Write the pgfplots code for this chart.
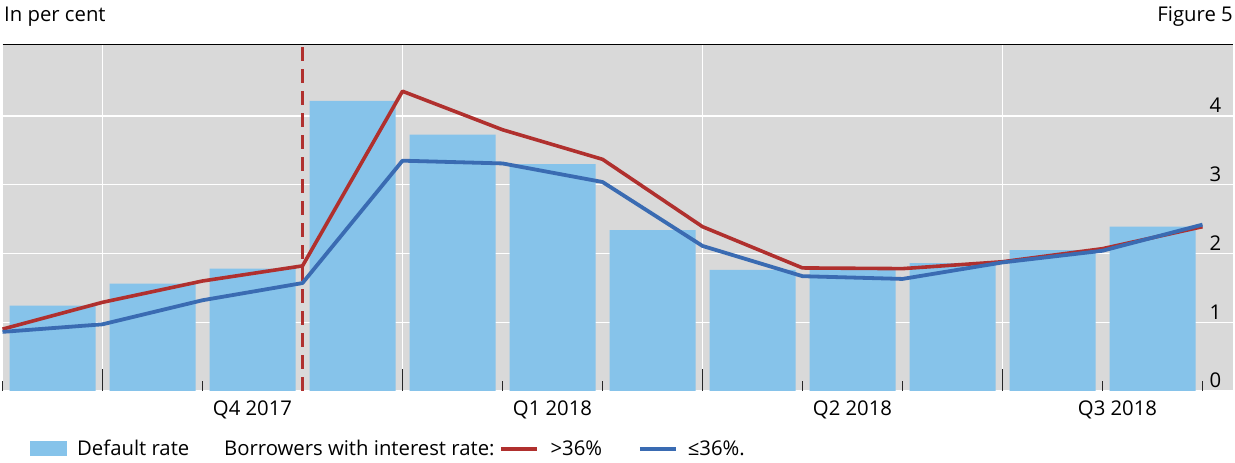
\documentclass[border=0pt]{standalone}
\usepackage{pgfplots}
\pgfplotsset{compat=1.18}
\usepackage{fontspec}
\setmainfont{Open Sans}
\definecolor{bgGrey}{HTML}{D9D9D9}
\definecolor{barBlue}{HTML}{86C3EA}
\definecolor{lineRed}{HTML}{B0302E}
\definecolor{lineBlue}{HTML}{3A6BB2}

% monthly default rate (bars) and rates by borrower group (end of month)
\pgfplotstableread{
x   rate
1   1.24
2   1.56
3   1.78
4   4.22
5   3.73
6   3.30
7   2.34
8   1.76
9   1.77
10  1.86
11  2.05
12  2.39
}\defaults
\pgfplotstableread{
x     high  low
0.5   0.90  0.86
1.5   1.29  0.97
2.5   1.60  1.32
3.5   1.82  1.57
4.5   4.36  3.35
5.5   3.80  3.31
6.5   3.37  3.04
7.5   2.39  2.11
8.5   1.79  1.67
9.5   1.78  1.63
10.5  1.88  1.87
11.5  2.07  2.04
12.5  2.39  2.42
}\groups

\begin{document}
\fontsize{20.3}{24}\selectfont
\begin{tikzpicture}
\begin{axis}[scale only axis,width=1230pt,height=346.5pt,
 xmin=0.5,xmax=12.8,ymin=0,ymax=5.04,
 axis line style={draw=none},
 axis background/.style={fill=bgGrey},
 xtick={1.5,4.5,7.5,10.5},xticklabels={},
 minor xtick={0.5,2.5,3.5,5.5,6.5,8.5,9.5,11.5,12.5},
 xtick pos=bottom,tick align=inside,
 major tick length=22pt,minor tick length=10pt,
 xtick style={black!85,line width=1.3pt},
 extra x ticks={3,6,9,11.65},
 extra x tick labels={Q4 2017,Q1 2018,Q2 2018,Q3 2018},
 extra x tick style={major tick length=0pt,grid=none,xticklabel style={yshift=-3pt}},
 ytick={0,1,2,3,4},ytick style={draw=none},
 yticklabel pos=right,
 yticklabel style={anchor=south east,inner sep=1pt,xshift=-10pt,yshift=2pt},
 /pgf/number format/assume math mode=true,
 xmajorgrids,ymajorgrids,grid style={white,line width=1.3pt},
 clip=false]
 \addplot[ybar,bar width=0.86,fill=barBlue,draw=none] table[x=x,y=rate]{\defaults};
 \addplot[lineRed,line width=2.6pt,dash pattern=on 14pt off 8pt] coordinates {(3.5,0)(3.5,5.04)};
 \addplot[lineRed,line width=3.6pt,line join=round] table[x=x,y=high]{\groups};
 \addplot[lineBlue,line width=3.8pt,line join=round] table[x=x,y=low]{\groups};
 \draw[black,line width=1.3pt] (rel axis cs:0,1) -- (rel axis cs:1,1);
\end{axis}
\begin{scope}[shift={(current axis.south west)},xshift=-2.5pt,yshift=391pt,x=1pt,y=-1pt]
 \node[anchor=base west,inner sep=0pt] at (4,22) {In per cent};
 \node[anchor=base east,inner sep=0pt] at (1233,22) {Figure 5};
 \fill[barBlue] (30,441) rectangle (67,456);
 \node[anchor=base west,inner sep=0pt] at (77,456) {Default rate};
 \node[anchor=base west,inner sep=0pt] (bw) at (224,456) {Borrowers with interest rate:};
 \draw[lineRed,line width=3.6pt] ([xshift=6pt,yshift=7pt]bw.base east) -- ++(36pt,0) node[black,anchor=west,inner sep=0pt,xshift=12pt,yshift=-7pt,anchor=base west] (gt) {>36\%};
 \draw[lineBlue,line width=3.8pt] ([xshift=36pt,yshift=7pt]gt.base east) -- ++(36pt,0) node[black,inner sep=0pt,xshift=10pt,yshift=-7pt,anchor=base west] {≤36\%.};
\end{scope}
\pgfresetboundingbox
\path (current axis.south west) ++(-2.5pt,-72pt) rectangle ++(1235pt,463pt);
\end{tikzpicture}
\end{document}
